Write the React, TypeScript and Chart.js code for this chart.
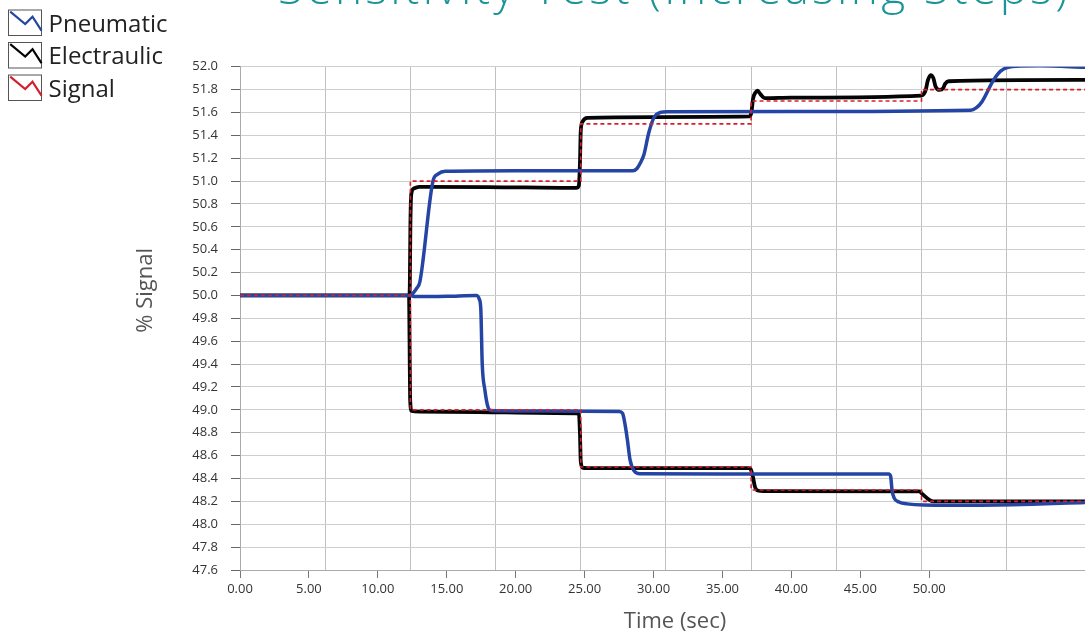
import React, { useEffect, useRef } from 'react';
import { Chart, registerables } from 'chart.js';

Chart.register(...registerables);

type Pt = [number, number];

// ---------- text ----------
const chartTitle = 'Sensitivity Test (Increasing Steps)';
const xAxisTitle = 'Time (sec)';
const yAxisTitle = '% Signal';
const seriesLabels = ['Pneumatic', 'Electraulic', 'Signal'];

// ---------- axes ----------
const xMin = 0;
const xMax = 61.3;
const yMin = 47.6;
const yMax = 52.0;
const xTickValues = [0, 5, 10, 15, 20, 25, 30, 35, 40, 45, 50];
const xGridValues = [6.18, 12.36, 18.54, 24.72, 30.9, 37.08, 43.26, 49.44, 55.62];
const yTickValues = [
  47.6, 47.8, 48.0, 48.2, 48.4, 48.6, 48.8, 49.0, 49.2, 49.4, 49.6, 49.8,
  50.0, 50.2, 50.4, 50.6, 50.8, 51.0, 51.2, 51.4, 51.6, 51.8, 52.0,
];

// ---------- data (time sec, % signal) ----------
const pneumaticUp: Pt[] = [
  [0, 50.0], [12.3, 50.0], [12.55, 50.02], [12.8, 50.06], [13.05, 50.12],
  [14.0, 51.0], [14.35, 51.06], [14.9, 51.085], [20, 51.09], [28.5, 51.09],
  [28.8, 51.11], [29.05, 51.16], [29.3, 51.23], [29.65, 51.42], [30.05, 51.56],
  [30.5, 51.6], [31.0, 51.607], [40, 51.608], [53.0, 51.62], [53.4, 51.64],
  [53.8, 51.69], [54.6, 51.87], [55.0, 51.94], [55.4, 51.98], [56.3, 52.005],
  [58, 52.008], [61.3, 51.995],
];
const pneumaticDown: Pt[] = [
  [0, 50.0], [12.36, 50.0], [12.6, 49.99], [15, 49.993], [17.15, 50.0],
  [17.35, 49.97], [17.47, 49.88], [17.57, 49.41], [17.77, 49.17], [18.0, 49.02],
  [18.2, 48.995], [22, 48.99], [27.5, 48.985], [27.75, 48.97], [27.95, 48.86],
  [28.1, 48.74], [28.3, 48.56], [28.6, 48.465], [29.0, 48.442], [35, 48.44],
  [47.05, 48.44], [47.2, 48.42], [47.3, 48.3], [47.45, 48.23], [47.8, 48.195],
  [48.4, 48.178], [51.3, 48.165], [56, 48.17], [61.3, 48.19],
];
const electraulicUp: Pt[] = [
  [0, 50.0], [12.28, 50.0], [12.32, 50.1], [12.36, 50.6], [12.42, 50.88],
  [12.6, 50.935], [13, 50.95], [18, 50.948], [24.4, 50.94], [24.58, 50.96],
  [24.66, 51.15], [24.72, 51.44], [24.85, 51.52], [25.2, 51.553], [30, 51.56],
  [36.95, 51.565], [37.1, 51.6], [37.22, 51.72], [37.4, 51.775], [37.55, 51.79],
  [37.75, 51.76], [38.07, 51.725], [40, 51.73], [49.43, 51.748], [49.6, 51.76],
  [49.75, 51.8], [49.9, 51.88], [50.1, 51.927], [50.3, 51.9], [50.45, 51.83],
  [50.75, 51.797], [51.0, 51.81], [51.15, 51.85], [51.4, 51.873], [61.3, 51.885],
];
const electraulicDown: Pt[] = [
  [0, 50.0], [12.26, 50.0], [12.3, 49.6], [12.34, 49.1], [12.45, 48.99],
  [13, 48.985], [24.4, 48.97], [24.58, 48.96], [24.66, 48.8], [24.72, 48.55],
  [24.85, 48.495], [25.2, 48.49], [36.9, 48.49], [37.05, 48.48], [37.2, 48.42],
  [37.35, 48.33], [37.55, 48.295], [38, 48.29], [49.3, 48.288], [49.45, 48.27],
  [50.3, 48.2], [61.3, 48.2],
];
const signalUp: Pt[] = [
  [0, 50.0], [12.36, 51.0], [24.72, 51.5], [37.08, 51.7], [49.44, 51.8], [61.3, 51.8],
];
const signalDown: Pt[] = [
  [0, 50.0], [12.36, 49.0], [24.72, 48.5], [37.08, 48.3], [49.44, 48.2], [61.3, 48.2],
];

// up branch and down branch in one dataset, separated by a gap
function joinBranches(up: Pt[], down: Pt[]) {
  return [
    ...up.map(([x, y]) => ({ x, y })),
    { x: up[up.length - 1][0], y: null as number | null },
    ...down.map(([x, y]) => ({ x, y })),
  ];
}

const FONT = '"Open Sans", "Noto Sans", sans-serif';

const overlayPlugin = {
  id: 'overlayText',
  afterDraw(chart: any) {
    const { ctx, chartArea } = chart;
    const midX = (chartArea.left + chartArea.right) / 2;
    const midY = (chartArea.top + chartArea.bottom) / 2;
    ctx.save();

    // main title (cut by the top edge, as in the reference)
    ctx.fillStyle = '#1b9497';
    ctx.textAlign = 'center';
    ctx.textBaseline = 'alphabetic';
    ctx.font = `300 46px ${FONT}`;
    const targetWidth = 793;
    const measured = ctx.measureText(chartTitle).width;
    const hasSpacing = 'letterSpacing' in ctx;
    if (hasSpacing) ctx.letterSpacing = `${(targetWidth - measured) / chartTitle.length}px`;
    ctx.fillText(chartTitle, midX + 12, 4);
    if (hasSpacing) ctx.letterSpacing = '0px';

    // y axis title
    ctx.fillStyle = '#555555';
    ctx.font = `22px ${FONT}`;
    ctx.textBaseline = 'middle';
    ctx.save();
    ctx.translate(chartArea.left - 94, midY - 28);
    ctx.rotate(-Math.PI / 2);
    ctx.fillText(yAxisTitle, 0, 0);
    ctx.restore();

    // x axis title
    ctx.fillText(xAxisTitle, midX + 12.5, chartArea.bottom + 52);

    // legend
    chart.data.datasets.forEach((ds: any, i: number) => {
      const top = 10 + i * 32.5;
      const left = 8.5;
      const w = 33;
      const h = 25.5;
      ctx.lineWidth = 1;
      ctx.strokeStyle = '#555555';
      ctx.strokeRect(left, top, w, h);
      ctx.beginPath();
      ctx.moveTo(left + 1.7, top + 1.7);
      ctx.lineTo(left + 16.7, top + 14);
      ctx.lineTo(left + 24, top + 6.7);
      ctx.lineTo(left + w, top + 20.7);
      ctx.strokeStyle = ds.borderColor;
      ctx.lineWidth = 2.2;
      ctx.lineJoin = 'miter';
      ctx.stroke();
      ctx.fillStyle = '#222222';
      ctx.font = `24px ${FONT}`;
      ctx.textAlign = 'left';
      ctx.textBaseline = 'alphabetic';
      ctx.fillText(ds.label, 48.5, top + 21.7);
    });

    ctx.restore();
  },
};

export default function App() {
  const canvasRef = useRef<HTMLCanvasElement>(null);

  useEffect(() => {
    if (!canvasRef.current) return;
    const chart = new Chart(canvasRef.current, {
      type: 'line',
      data: {
        datasets: [
          {
            label: seriesLabels[0],
            data: joinBranches(pneumaticUp, pneumaticDown),
            borderColor: '#2445a3',
            borderWidth: 3.5,
            pointRadius: 0,
            cubicInterpolationMode: 'monotone',
            spanGaps: false,
            order: 1,
          },
          {
            label: seriesLabels[1],
            data: joinBranches(electraulicUp, electraulicDown),
            borderColor: '#050505',
            borderWidth: 3.8,
            pointRadius: 0,
            cubicInterpolationMode: 'monotone',
            spanGaps: false,
            order: 2,
          },
          {
            label: seriesLabels[2],
            data: joinBranches(signalUp, signalDown),
            borderColor: '#d3202f',
            borderWidth: 1.6,
            borderDash: [4, 3],
            pointRadius: 0,
            stepped: 'before',
            spanGaps: false,
            order: 0,
          },
        ] as any,
      },
      options: {
        animation: false,
        responsive: true,
        maintainAspectRatio: false,
        layout: { padding: { top: 66.7, left: 0, right: 0, bottom: 0 } },
        plugins: {
          legend: { display: false },
          title: { display: false },
          tooltip: { enabled: false },
        },
        scales: {
          x: {
            type: 'linear',
            position: 'bottom',
            min: xMin,
            max: xMax,
            afterBuildTicks: (s: any) => {
              s.ticks = xTickValues.map((v) => ({ value: v }));
            },
            afterFit: (s: any) => {
              s.height = 67;
            },
            ticks: {
              autoSkip: false,
              maxRotation: 0,
              padding: 3,
              color: '#333333',
              font: { family: FONT, size: 13 },
              callback: (v: any) => Number(v).toFixed(2),
            },
            grid: {
              drawOnChartArea: false,
              drawTicks: true,
              tickLength: 8,
              tickColor: '#777777',
            },
            border: { color: '#aaaaaa' },
          },
          x2: {
            type: 'linear',
            position: 'top',
            min: xMin,
            max: xMax,
            afterBuildTicks: (s: any) => {
              s.ticks = xGridValues.map((v) => ({ value: v }));
            },
            afterFit: (s: any) => {
              s.height = 0;
            },
            ticks: { display: false },
            grid: { color: '#c0c0c0', lineWidth: 1, drawTicks: false },
            border: { display: false },
          },
          y: {
            type: 'linear',
            min: yMin,
            max: yMax,
            afterBuildTicks: (s: any) => {
              s.ticks = yTickValues.map((v) => ({ value: v }));
            },
            afterFit: (s: any) => {
              s.width = 240;
            },
            ticks: {
              padding: 13,
              color: '#333333',
              font: { family: FONT, size: 13 },
              callback: (v: any) => Number(v).toFixed(1),
            },
            grid: {
              color: '#cecece',
              lineWidth: 1,
              drawTicks: true,
              tickLength: 9,
              tickColor: '#666666',
            },
            border: { color: '#aaaaaa' },
          },
        },
      } as any,
      plugins: [overlayPlugin],
    });
    return () => chart.destroy();
  }, []);

  return (
    <div style={{ position: 'absolute', left: 0, top: 0, width: 1085, height: 637 }}>
      <canvas ref={canvasRef} />
    </div>
  );
}
